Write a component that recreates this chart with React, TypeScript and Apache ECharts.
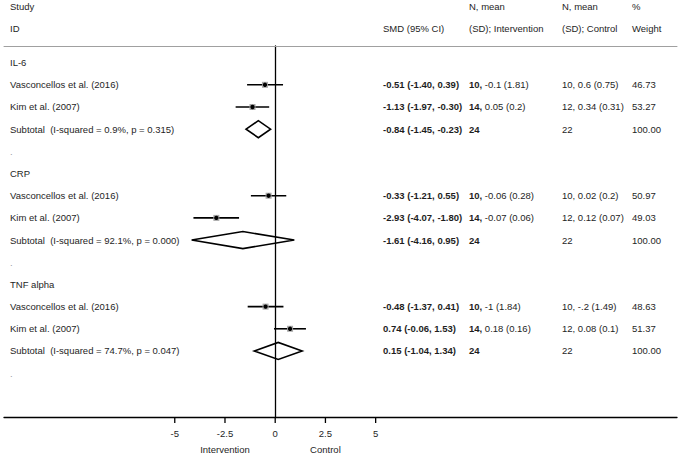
import React, { useEffect, useRef } from "react";
import * as echarts from "echarts";

// ---- data ----
const outcomes = ["IL-6", "CRP", "TNF alpha"];
const studies = ["Vasconcellos et al. (2016)", "Kim et al. (2007)"];
const smd = [[-0.51, -1.13], [-0.33, -2.93], [-0.48, 0.74]];
const lower = [[-1.40, -1.97], [-1.21, -4.07], [-1.37, -0.06]];
const upper = [[0.39, -0.30], [0.55, -1.80], [0.41, 1.53]];
const smdText = [
  ["-0.51 (-1.40, 0.39)", "-1.13 (-1.97, -0.30)"],
  ["-0.33 (-1.21, 0.55)", "-2.93 (-4.07, -1.80)"],
  ["-0.48 (-1.37, 0.41)", "0.74 (-0.06, 1.53)"],
];
const interventionN = [[10, 14], [10, 14], [10, 14]];
const interventionMean = [
  ["-0.1 (1.81)", "0.05 (0.2)"],
  ["-0.06 (0.28)", "-0.07 (0.06)"],
  ["-1 (1.84)", "0.18 (0.16)"],
];
const controlText = [
  ["10, 0.6 (0.75)", "12, 0.34 (0.31)"],
  ["10, 0.02 (0.2)", "12, 0.12 (0.07)"],
  ["10, -.2 (1.49)", "12, 0.08 (0.1)"],
];
const weights = [["46.73", "53.27"], ["50.97", "49.03"], ["48.63", "51.37"]];
const subtotalSmd = [-0.84, -1.61, 0.15];
const subtotalLower = [-1.45, -4.16, -1.04];
const subtotalUpper = [-0.23, 0.95, 1.34];
const subtotalText = ["-0.84 (-1.45, -0.23)", "-1.61 (-4.16, 0.95)", "0.15 (-1.04, 1.34)"];
const heterogeneity = [
  "I-squared = 0.9%, p = 0.315",
  "I-squared = 92.1%, p = 0.000",
  "I-squared = 74.7%, p = 0.047",
];
const totalIntervention = [24, 24, 24];
const totalControl = [22, 22, 22];
const subtotalWeight = ["100.00", "100.00", "100.00"];
const tickValues = [-5, -2.5, 0, 2.5, 5];
const sideLabels = [{ x: -2.5, text: "Intervention" }, { x: 2.5, text: "Control" }];

const FONT = "'Liberation Sans', Arial, Helvetica, sans-serif";
const FS = 9.5;
const TXT = "#1e1e1e";
const Y_MAX = 16;

type Item = {
  row: number;
  kind: "head" | "study" | "sub" | "dot";
  g: number;
  s: number;
};

const items: Item[] = [];
outcomes.forEach((_, g) => {
  const base = g * 5;
  items.push({ row: base, kind: "head", g, s: 0 });
  studies.forEach((__, s) => items.push({ row: base + 1 + s, kind: "study", g, s }));
  items.push({ row: base + 3, kind: "sub", g, s: 0 });
  items.push({ row: base + 4, kind: "dot", g, s: 0 });
});

const COL = { name: 10, smd: 383, int: 469, ctl: 562, w: 632 };

function txt(x: number, y: number, text: string, bold = false, color = TXT, align = "left") {
  return {
    type: "text",
    x,
    y,
    style: {
      text,
      fill: color,
      fontSize: FS,
      fontFamily: FONT,
      fontWeight: bold ? "bold" : "normal",
      align,
      verticalAlign: "middle",
      textAlign: align,
      textVerticalAlign: "middle",
    },
  };
}

export default function App() {
  const ref = useRef<HTMLDivElement>(null);
  useEffect(() => {
    document.body.style.margin = "0";
    const chart = echarts.init(ref.current!, undefined, { renderer: "svg" });

    const renderText = (params: any, api: any) => {
      const it = items[params.dataIndex];
      const y = api.coord([0, it.row])[1];
      const children: any[] = [];
      if (it.kind === "head") {
        children.push(txt(COL.name, y, outcomes[it.g]));
      } else if (it.kind === "study") {
        const { g, s } = it;
        children.push(txt(COL.name, y, studies[s]));
        children.push(txt(COL.smd, y, smdText[g][s], true));
        children.push({
          type: "text",
          x: COL.int,
          y,
          style: {
            text: `{b|${interventionN[g][s]},}{n| ${interventionMean[g][s]}}`,
            fill: TXT,
            fontSize: FS,
            fontFamily: FONT,
            verticalAlign: "middle",
            textVerticalAlign: "middle",
            rich: {
              b: { fontWeight: "bold", fontSize: FS, fontFamily: FONT, fill: TXT, color: TXT },
              n: { fontWeight: "normal", fontSize: FS, fontFamily: FONT, fill: TXT, color: TXT },
            },
          },
        });
        children.push(txt(COL.ctl, y, controlText[g][s]));
        children.push(txt(COL.w, y, weights[g][s]));
      } else if (it.kind === "sub") {
        const g = it.g;
        children.push(txt(COL.name, y, `Subtotal  (${heterogeneity[g]})`));
        children.push(txt(COL.smd, y, subtotalText[g], true));
        children.push(txt(COL.int, y, String(totalIntervention[g]), true));
        children.push(txt(COL.ctl, y, String(totalControl[g])));
        children.push(txt(COL.w, y, subtotalWeight[g]));
      } else {
        children.push(txt(COL.name, y, ".", false, "#999"));
      }
      return { type: "group", children };
    };

    const renderMarks = (params: any, api: any) => {
      const it = items[params.dataIndex];
      if (it.kind === "study") {
        const { g, s } = it;
        const pLo = api.coord([lower[g][s], it.row]);
        const pHi = api.coord([upper[g][s], it.row]);
        const p = api.coord([smd[g][s], it.row]);
        const box = 6;
        return {
          type: "group",
          children: [
            {
              type: "line",
              shape: { x1: pLo[0], y1: pLo[1], x2: pHi[0], y2: pHi[1] },
              style: { stroke: "#000", lineWidth: 1.6 },
            },
            {
              type: "rect",
              shape: { x: p[0] - box / 2, y: p[1] - box / 2, width: box, height: box },
              style: { fill: "#a8a8a8" },
            },
            {
              type: "circle",
              shape: { cx: p[0], cy: p[1], r: 2.2 },
              style: { fill: "#000" },
            },
          ],
        };
      }
      if (it.kind === "sub") {
        const g = it.g;
        const pLo = api.coord([subtotalLower[g], it.row]);
        const pHi = api.coord([subtotalUpper[g], it.row]);
        const p = api.coord([subtotalSmd[g], it.row]);
        const h = 8.5;
        return {
          type: "polygon",
          shape: {
            points: [
              [pLo[0], p[1]],
              [p[0], p[1] - h],
              [pHi[0], p[1]],
              [p[0], p[1] + h],
            ],
          },
          style: { fill: "none", stroke: "#000", lineWidth: 1.6 },
        };
      }
      return null;
    };

    const renderAxisDecor = (params: any, api: any) => {
      const children: any[] = [];
      tickValues.forEach((v) => {
        const p = api.coord([v, Y_MAX]);
        children.push({
          type: "polyline",
          shape: { points: [[p[0], p[1]], [p[0], p[1] + 5.5]] },
          style: { stroke: "#000", lineWidth: 1.3, fill: "none" },
        });
      });
      sideLabels.forEach((lab) => {
        const p = api.coord([lab.x, Y_MAX]);
        children.push(txt(p[0], p[1] + 31.5, lab.text, false, TXT, "center"));
      });
      return { type: "group", children };
    };

    chart.setOption({
      animation: false,
      backgroundColor: "#fff",
      grid: { left: 4, right: 3, top: 46, bottom: 37.5, containLabel: false },
      xAxis: [
        {
          type: "value",
          position: "bottom",
          min: -13.5,
          max: 20,
          splitLine: { show: false },
          axisLine: { show: true, onZero: false, lineStyle: { color: "#000", width: 1.3 } },
          axisTick: { show: false },
          axisLabel: {
            customValues: tickValues,
            color: TXT,
            fontSize: FS,
            fontFamily: FONT,
            margin: 11,
            formatter: (v: number) => String(v),
          },
        },
        {
          type: "value",
          position: "top",
          min: -13.5,
          max: 20,
          splitLine: { show: false },
          axisLine: { show: true, onZero: false, lineStyle: { color: "#a0a0a0", width: 1 } },
          axisTick: { show: false },
          axisLabel: { show: false },
        },
      ],
      yAxis: {
        type: "value",
        inverse: true,
        min: -0.75,
        max: Y_MAX,
        splitLine: { show: false },
        axisTick: { show: false },
        axisLabel: { show: false },
        axisLine: { show: true, onZero: true, lineStyle: { color: "#000", width: 1.3 } },
      },
      graphic: [
        txt(10, 6, "Study"),
        txt(10, 28, "ID"),
        txt(383, 28, "SMD (95% CI)"),
        txt(469, 6, "N, mean"),
        txt(469, 28, "(SD); Intervention"),
        txt(562, 6, "N, mean"),
        txt(562, 28, "(SD); Control"),
        txt(632, 6, "%"),
        txt(632, 28, "Weight"),
      ],
      series: [
        {
          type: "custom",
          name: "marks",
          clip: false,
          renderItem: renderMarks,
          data: items.map((it) => [0, it.row]),
          z: 3,
        },
        {
          type: "custom",
          name: "text",
          clip: false,
          renderItem: renderText,
          data: items.map((it) => [0, it.row]),
          z: 4,
        },
        {
          type: "custom",
          name: "axisDecor",
          clip: false,
          renderItem: renderAxisDecor,
          data: [[0, Y_MAX]],
          z: 5,
        },
      ],
    });
    return () => chart.dispose();
  }, []);
  return <div ref={ref} style={{ width: 680, height: 455 }} />;
}
